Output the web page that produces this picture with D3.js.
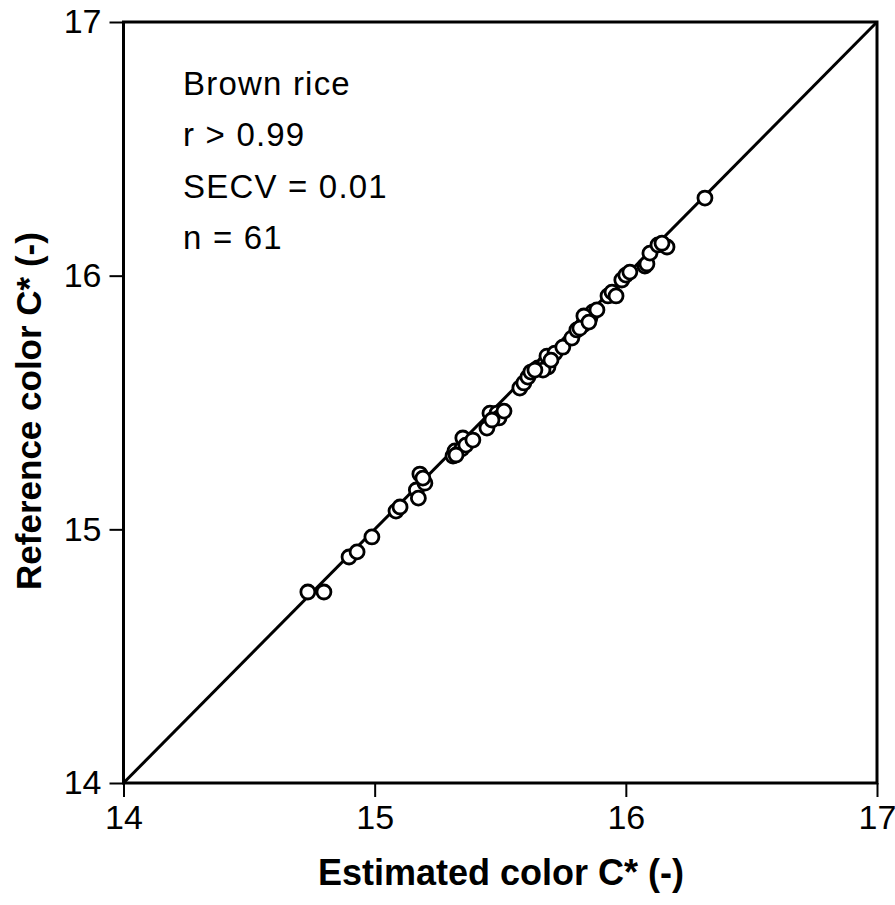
<!DOCTYPE html>
<html>
<head>
<meta charset="utf-8">
<script src="https://cdn.jsdelivr.net/npm/d3@7"></script>
<style>
  html, body { margin: 0; padding: 0; background: #fff; }
  svg { display: block; }
  text { font-family: "Liberation Sans", Arial, sans-serif; fill: #000; }
</style>
</head>
<body>
<svg id="chart" width="895" height="905"></svg>
<script>
// ---- data ----
const estimated = [
  14.734, 14.798, 14.898, 14.930, 14.989, 15.085, 15.101, 15.166, 15.174, 15.180,
  15.200, 15.192, 15.312, 15.320, 15.347, 15.351, 15.363, 15.391, 15.447, 15.459,
  15.487, 15.495, 15.578, 15.594, 15.610, 15.622, 15.650, 15.678, 15.686, 15.690,
  15.670, 15.718, 15.749, 15.785, 15.805, 15.829, 15.845, 15.857, 15.869, 15.885,
  15.833, 15.817, 15.929, 15.945, 15.961, 15.984, 16.000, 16.016, 16.076, 16.084,
  16.096, 16.128, 16.164, 16.315, 15.638, 15.515, 15.467, 15.324, 15.702, 15.853,
  16.144
];
const reference = [
  14.753, 14.753, 14.891, 14.911, 14.970, 15.072, 15.088, 15.155, 15.123, 15.218,
  15.182, 15.202, 15.289, 15.309, 15.317, 15.360, 15.332, 15.352, 15.399, 15.458,
  15.458, 15.439, 15.557, 15.577, 15.600, 15.620, 15.636, 15.655, 15.683, 15.640,
  15.628, 15.695, 15.718, 15.754, 15.786, 15.805, 15.825, 15.833, 15.857, 15.865,
  15.841, 15.793, 15.920, 15.935, 15.920, 15.983, 16.002, 16.014, 16.038, 16.046,
  16.089, 16.121, 16.113, 16.306, 15.628, 15.466, 15.431, 15.293, 15.667, 15.817,
  16.128
];
const xTicks = [14, 15, 16, 17];
const yTicks = [14, 15, 16, 17];
const xDomain = [14, 17];
const yDomain = [14, 17];
const annotation = ["Brown rice", "r > 0.99", "SECV = 0.01", "n = 61"];
const xTitle = "Estimated color C* (-)";
const yTitle = "Reference color C* (-)";

// ---- layout ----
const svg = d3.select("#chart");
const pLeft = 123.5, pRight = 877, pTop = 22, pBottom = 783;
const x = d3.scaleLinear().domain(xDomain).range([pLeft, pRight]);
const y = d3.scaleLinear().domain(yDomain).range([pBottom, pTop]);

// 1:1 line
svg.append("line")
  .attr("x1", x(xDomain[0])).attr("y1", y(yDomain[0]))
  .attr("x2", x(xDomain[1])).attr("y2", y(yDomain[1]))
  .attr("stroke", "#000").attr("stroke-width", 3);

// frame
svg.append("rect")
  .attr("x", pLeft).attr("y", pTop)
  .attr("width", pRight - pLeft).attr("height", pBottom - pTop)
  .attr("fill", "none").attr("stroke", "#000").attr("stroke-width", 3);

// axes
const xAxis = d3.axisBottom(x).tickValues(xTicks).tickSize(14).tickPadding(5).tickFormat(d3.format("d"));
const yAxis = d3.axisLeft(y).tickValues(yTicks).tickSize(14).tickPadding(8).tickFormat(d3.format("d"));

const gx = svg.append("g").attr("transform", `translate(0,${pBottom})`).call(xAxis);
const gy = svg.append("g").attr("transform", `translate(${pLeft},0)`).call(yAxis);
[gx, gy].forEach(g => {
  g.select(".domain").remove();
  g.selectAll(".tick line").attr("stroke", "#000").attr("stroke-width", 2);
  g.selectAll(".tick text")
    .style("font-family", '"Liberation Sans", Arial, sans-serif')
    .style("font-size", "34px").attr("fill", "#000");
});
gx.selectAll(".tick text").attr("dy", "0.8em");

// points
const pts = estimated.map((d, i) => ({ x: d, y: reference[i] }));
svg.append("g").selectAll("circle").data(pts).join("circle")
  .attr("cx", d => x(d.x)).attr("cy", d => y(d.y)).attr("r", 7)
  .attr("fill", "#fff").attr("stroke", "#000").attr("stroke-width", 2.8);

// annotation
svg.append("g").selectAll("text").data(annotation).join("text")
  .attr("x", 183).attr("y", (d, i) => 95 + i * 51.3)
  .style("font-size", "33px").style("letter-spacing", "1.2px")
  .text(d => d);

// axis titles
svg.append("text")
  .attr("x", 501).attr("y", 885).attr("text-anchor", "middle")
  .style("font-size", "36px").style("font-weight", "bold")
  .text(xTitle);
svg.append("text")
  .attr("transform", "translate(41,411) rotate(-90)")
  .attr("text-anchor", "middle")
  .style("font-size", "35px").style("font-weight", "bold")
  .text(yTitle);
</script>
</body>
</html>
